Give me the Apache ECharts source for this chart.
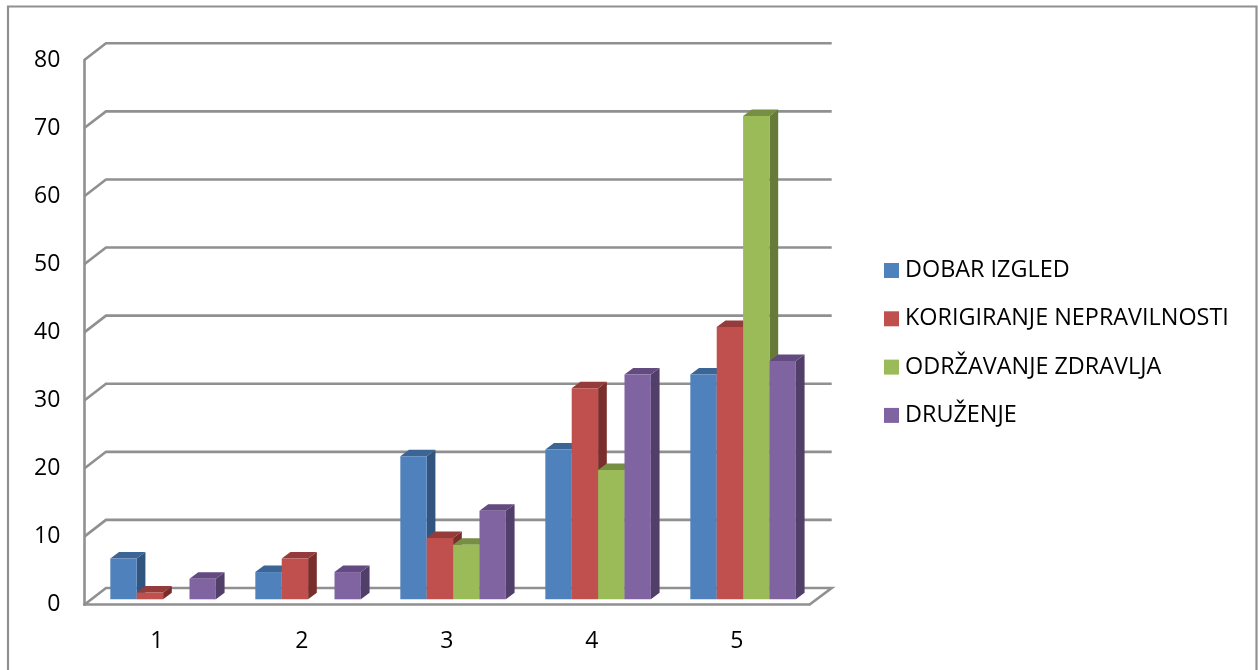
<!DOCTYPE html>
<html>
<head>
<meta charset="utf-8">
<style>html,body{margin:0;padding:0;background:#fff}#c{width:1258px;height:670px}</style>
<script src="https://cdn.jsdelivr.net/npm/echarts@6/dist/echarts.min.js"></script>
</head>
<body>
<div id="c"></div>
<script>
const categories = ['1', '2', '3', '4', '5'];
const yTicks = [0, 10, 20, 30, 40, 50, 60, 70, 80];
const dobarIzgled = [6, 4, 21, 22, 33];
const korigiranje = [1, 6, 9, 31, 40];
const odrzavanje = [0, 0, 8, 19, 71];
const druzenje = [3, 4, 13, 33, 35];

const names = ['DOBAR IZGLED', 'KORIGIRANJE NEPRAVILNOSTI', 'ODRŽAVANJE ZDRAVLJA', 'DRUŽENJE'];
const values = [dobarIzgled, korigiranje, odrzavanje, druzenje];
const shades = [
  { front: '#4F81BD', side: '#31557F', top: '#3A6595' },
  { front: '#C0504D', side: '#7A2E2C', top: '#953B39' },
  { front: '#9BBB59', side: '#667B3A', top: '#778F44' },
  { front: '#8064A2', side: '#523F69', top: '#634A80' }
];

const FONT = '"Open Sans", sans-serif';
const WALL_DX = 21.7, WALL_DY = 16.7;
const BAR_SHIFT_X = 6.3, BAR_SHIFT_Y = -5.4;
const BAR_DX = 8.7, BAR_DY = 6.5;
const BAR_FRACTION = 0.182;
const AXIS_COLOR = '#909090';
const AXIS_WIDTH = 2.6;

function wallItem(params, api) {
  const v = api.value(0);
  const cs = params.coordSys;
  const p = api.coord([0, v]);
  const y = p[1], x0 = cs.x, x1 = cs.x + cs.width;
  const style = { stroke: AXIS_COLOR, lineWidth: AXIS_WIDTH, fill: 'none' };
  const pts = [[x0, y], [x0 + WALL_DX, y - WALL_DY], [x1 + WALL_DX + 0.7, y - WALL_DY]];
  if (v === 0) pts.push([x1, y]);
  return { type: 'polyline', shape: { points: pts }, style: style, silent: true };
}

function barItem(seriesIndex) {
  return function (params, api) {
    const val = api.value(1);
    if (!val) return null;
    const band = api.size([1, 0])[0];
    const w = band * BAR_FRACTION;
    const top = api.coord([api.value(0), val]);
    const base = api.coord([api.value(0), 0]);
    const x = top[0] + BAR_SHIFT_X + (seriesIndex - 2) * w;
    const yT = top[1] + BAR_SHIFT_Y, yB = base[1] + BAR_SHIFT_Y;
    const c = shades[seriesIndex];
    return {
      type: 'group',
      children: [
        { type: 'polygon', shape: { points: [[x + w, yB], [x + w, yT], [x + w + BAR_DX, yT - BAR_DY], [x + w + BAR_DX, yB - BAR_DY]] }, style: { fill: c.side } },
        { type: 'polygon', shape: { points: [[x, yT], [x + BAR_DX, yT - BAR_DY], [x + w + BAR_DX, yT - BAR_DY], [x + w, yT]] }, style: { fill: c.top } },
        { type: 'rect', shape: { x: x, y: yT, width: w, height: yB - yT }, style: { fill: c.front } }
      ]
    };
  };
}

const chart = echarts.init(document.getElementById('c'), null, { renderer: 'canvas' });
const series = [{
  name: 'wall',
  type: 'custom',
  coordinateSystem: 'cartesian2d',
  renderItem: wallItem,
  data: yTicks.map(v => [v]),
  encode: { y: 0 },
  silent: true,
  clip: false,
  z: 1
}];
names.forEach((n, i) => {
  series.push({
    name: n,
    type: 'custom',
    coordinateSystem: 'cartesian2d',
    renderItem: barItem(i),
    data: values[i].map((v, k) => [k, v]),
    encode: { x: 0, y: 1 },
    itemStyle: { color: shades[i].front },
    clip: false,
    z: 2 + i
  });
});

chart.setOption({
  animation: false,
  backgroundColor: '#ffffff',
  grid: { left: 84.3, top: 60, width: 725, height: 544.7 },
  xAxis: {
    type: 'category',
    data: categories,
    axisLine: { show: true, lineStyle: { color: AXIS_COLOR, width: AXIS_WIDTH } },
    axisTick: { show: false },
    axisLabel: { color: '#000', fontFamily: FONT, fontSize: 23, margin: 25 },
    splitLine: { show: false }
  },
  yAxis: {
    type: 'value',
    min: 0,
    max: 80,
    interval: 10,
    axisLine: { show: true, lineStyle: { color: AXIS_COLOR, width: AXIS_WIDTH } },
    axisTick: { show: false },
    axisLabel: { color: '#000', fontFamily: FONT, fontSize: 23, margin: 24, padding: [5, 0, 0, 0] },
    splitLine: { show: false }
  },
  legend: {
    data: names,
    orient: 'vertical',
    left: 879,
    top: 252,
    icon: 'rect',
    itemWidth: 15,
    itemHeight: 15,
    itemGap: 21.3,
    selectedMode: false,
    textStyle: { color: '#000', fontFamily: FONT, fontSize: 23.4, lineHeight: 27, padding: [0, 0, 0, 1] }
  },
  graphic: [{
    type: 'polyline',
    silent: true,
    shape: { points: [[8, 670], [8, 6.5], [1256.5, 6.5], [1256.5, 670]] },
    style: { stroke: '#909090', lineWidth: 2.2, fill: 'none' }
  }],
  series: series
});
</script>
</body>
</html>
